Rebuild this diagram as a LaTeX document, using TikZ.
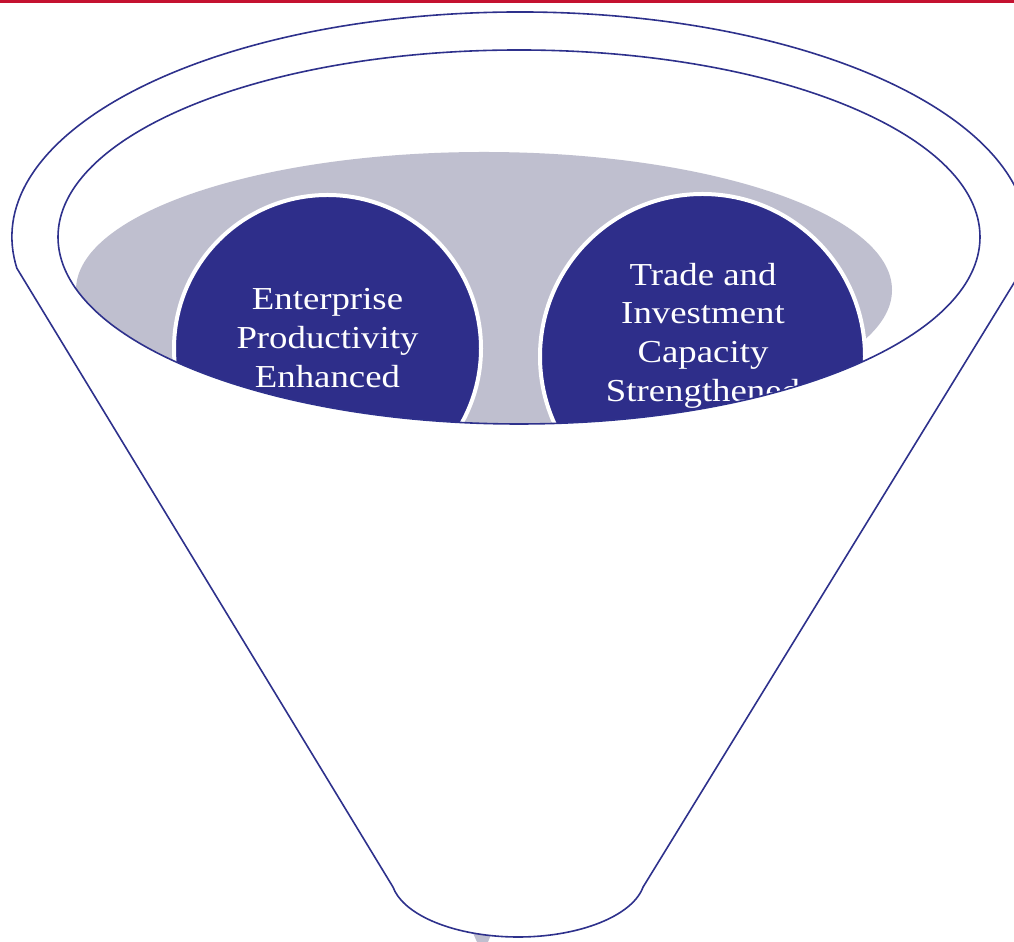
\documentclass[tikz,border=0pt]{standalone}
\usepackage{fontspec}
\newfontfamily\circfont[FakeStretch=1.15]{Liberation Serif}
\definecolor{funnelblue}{RGB}{46,49,140}
\definecolor{circblue}{RGB}{46,46,138}
\definecolor{greyfill}{RGB}{191,191,207}
\definecolor{topred}{RGB}{196,18,48}
\tikzset{
  outline/.style={draw=funnelblue, line width=1.2pt},
  bubble/.style={fill=circblue, draw=white, line width=3pt},
  bubbletext/.style={text=white, align=center, font=\circfont\fontsize{24}{29}\selectfont}
}
\begin{document}
\begin{tikzpicture}[x=0.75pt, y=0.75pt]
\useasboundingbox (0,0) rectangle (1014,942);
% top red rule
\fill[topred] (0,939) rectangle (1014,942);
% small grey tip under the funnel
\fill[greyfill] (468,20) -- (496,20) -- (488,0) -- (477,0) -- cycle;
% funnel body
\coordinate (lk) at (16.9,673.7);
\coordinate (rb) at (643.1,55);
\path[outline, fill=white] (lk) arc[start angle=188, end angle=-8, x radius=508, y radius=225]
  -- (rb) arc[start angle=350, end angle=190, x radius=127, y radius=60.5] -- cycle;
% inside of the mouth
\begin{scope}
  \clip (519,705) ellipse [x radius=461, y radius=187];
  \fill[greyfill] (484,652) ellipse [x radius=408, y radius=138];
  \node[bubble, circle, minimum size=230.25pt, inner sep=0pt] (c1) at (327.5,593.5) {};
  \node[bubble, circle, minimum size=243.75pt, inner sep=0pt] (c2) at (702.5,585.5) {};
  \node[bubbletext] (t1) at (327.5,604) {Enterprise\\Productivity\\Enhanced};
  \node[bubbletext] (t2) at (703,606.5) {Trade and\\Investment\\Capacity\\Strengthened};
\end{scope}
\draw[outline] (519,705) ellipse [x radius=461, y radius=187];
\end{tikzpicture}
\end{document}
